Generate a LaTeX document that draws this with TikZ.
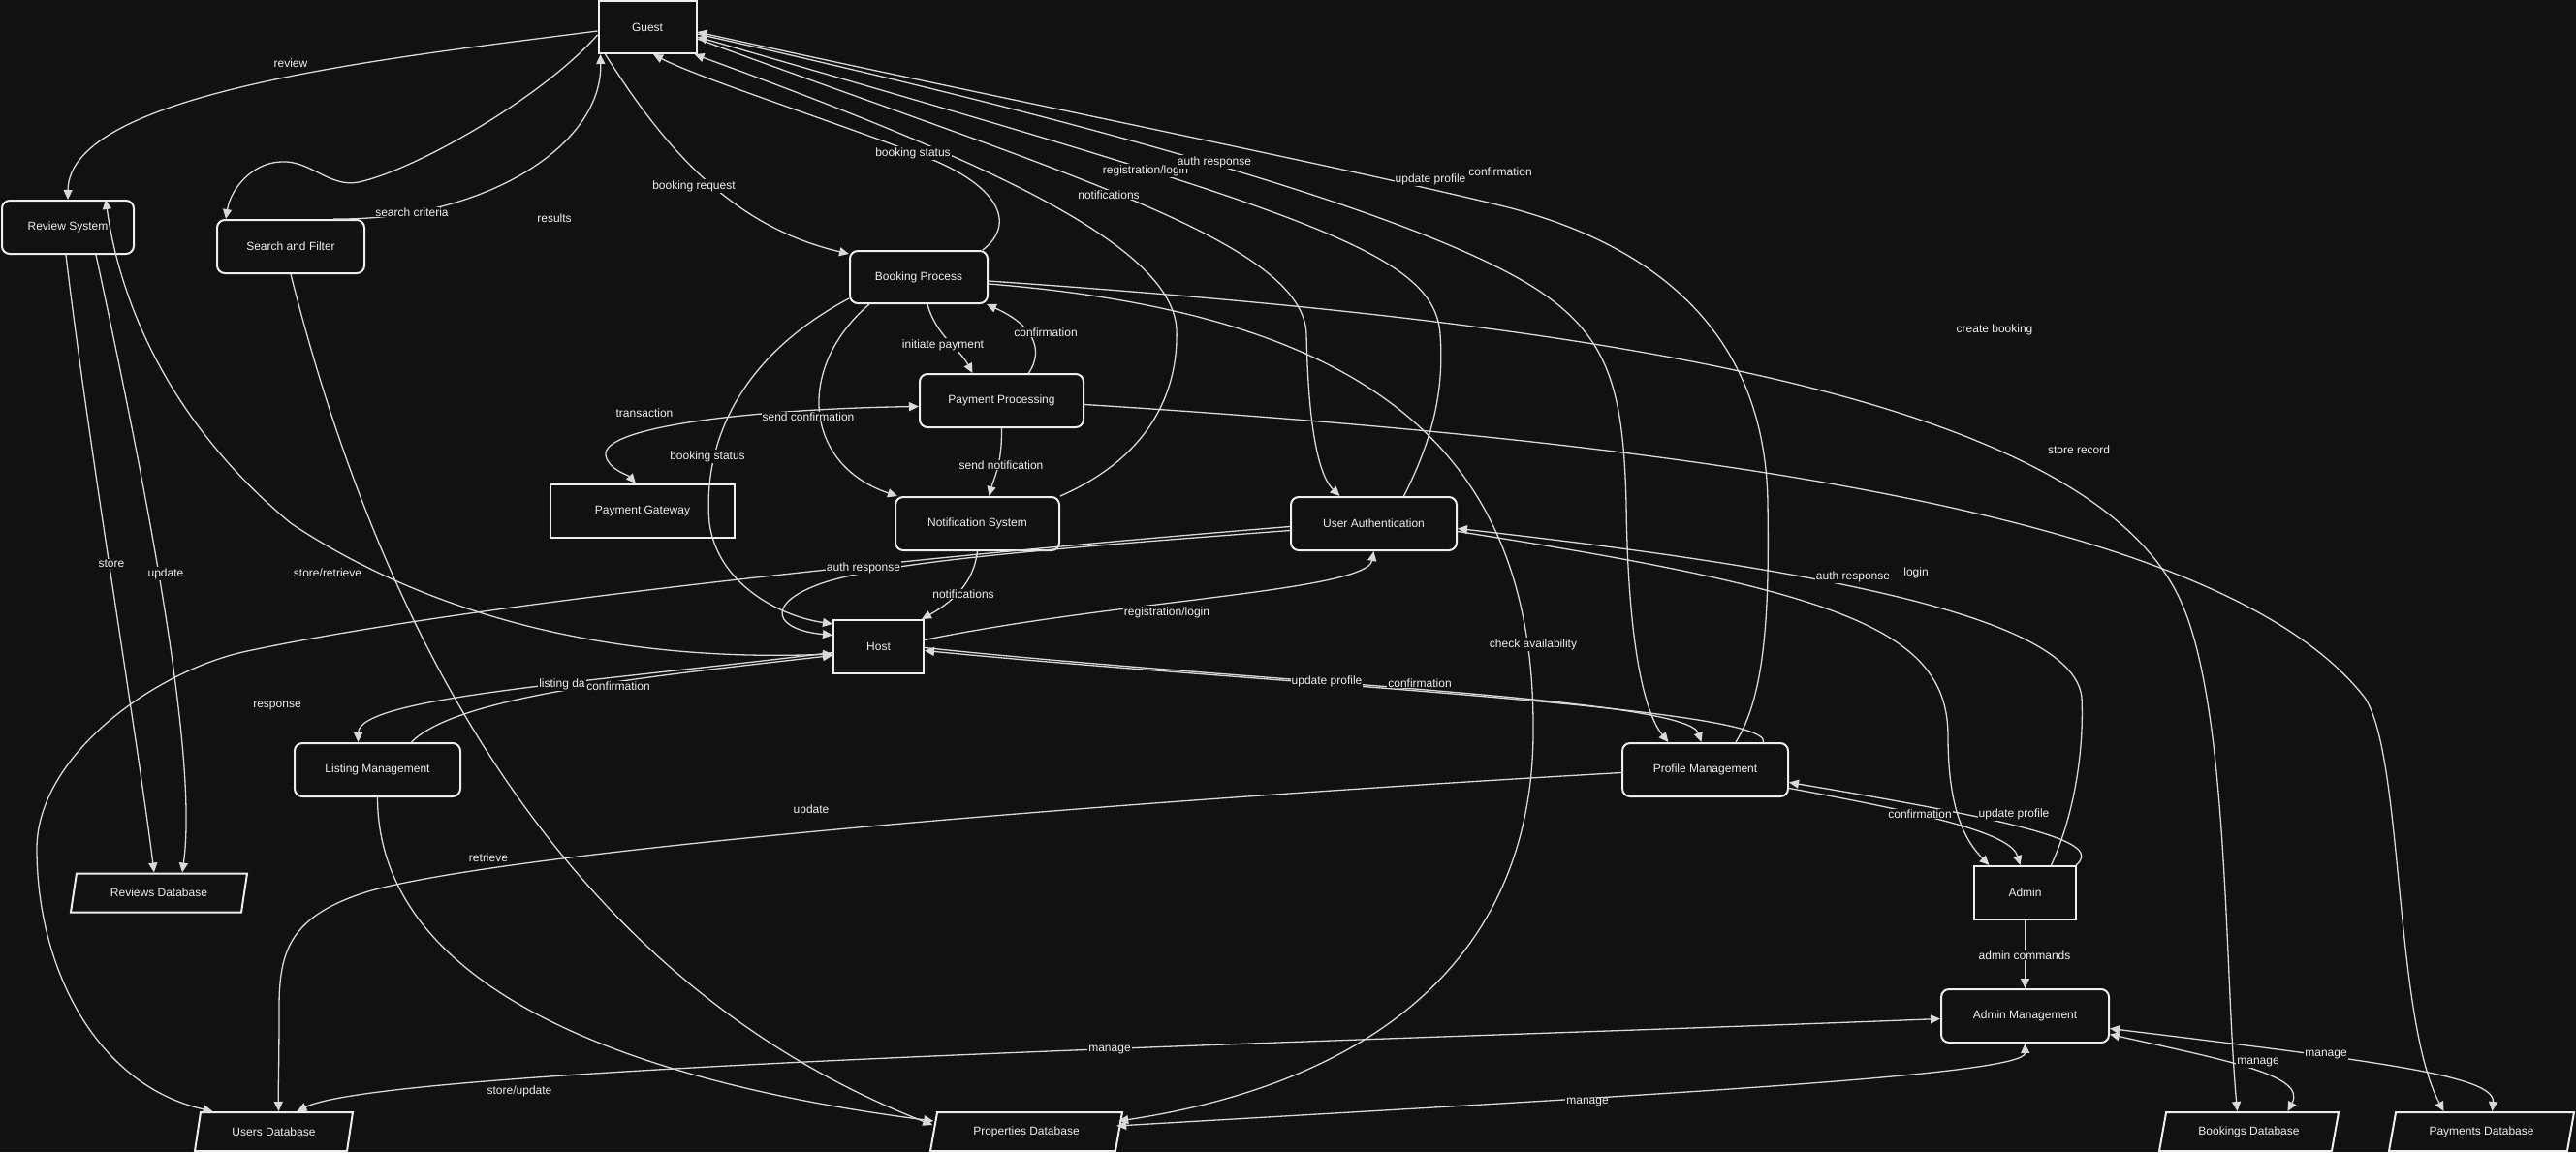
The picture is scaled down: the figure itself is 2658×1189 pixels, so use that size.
\documentclass[tikz,border=0pt]{standalone}
\usepackage{fontspec}
\setmainfont{Liberation Sans}
\usetikzlibrary{arrows.meta,shapes.geometric}
\definecolor{bg}{HTML}{111111}
\definecolor{ink}{HTML}{EEEEEE}
\definecolor{wire}{HTML}{D9D9D9}
\tikzset{
  nodebox/.style={draw=ink, line width=2pt, fill=bg, text=ink, font=\fontsize{12}{14}\selectfont, minimum height=55pt, inner sep=2pt},
  proc/.style={nodebox, rounded corners=8pt},
  ent/.style={nodebox},
  store/.style={nodebox, trapezium, trapezium left angle=65, trapezium right angle=115, trapezium stretches body=true, minimum height=40pt},
  flow/.style={draw=wire, line width=1.3pt, -{Triangle[length=10pt,width=9pt]}},
  biflow/.style={flow, {Triangle[length=10pt,width=9pt]}-{Triangle[length=10pt,width=9pt]}},
  lbl/.style={fill=bg, text=ink, font=\fontsize{12}{14}\selectfont, inner sep=1pt}
}
\begin{document}
\begin{tikzpicture}[x=1pt,y=-1pt]%
\useasboundingbox (0,0) rectangle (2658,1189);%
\fill[bg] (0,0) rectangle (2658,1189);%
% actors
\node[ent, minimum width=101pt, minimum height=54pt] (guest) at (668,28) {Guest};%
\node[ent, minimum width=93pt] (host) at (906.5,667.5) {Host};%
\node[ent, minimum width=105pt] (admin) at (2089.5,921.5) {Admin};%
\node[ent, minimum width=190pt] (gateway) at (663,527.5) {Payment Gateway};%
% processes
\node[proc, minimum width=136pt] (review) at (70,234.5) {Review System};%
\node[proc, minimum width=152pt] (search) at (300,254.5) {Search and Filter};%
\node[proc, minimum width=142pt, minimum height=54pt] (booking) at (948,286) {Booking Process};%
\node[proc, minimum width=169pt] (payment) at (1033.5,413.5) {Payment Processing};%
\node[proc, minimum width=169pt] (notify) at (1008.5,540.5) {Notification System};%
\node[proc, minimum width=171pt] (auth) at (1417.5,540.5) {User Authentication};%
\node[proc, minimum width=171pt] (listing) at (389.5,794.5) {Listing Management};%
\node[proc, minimum width=171pt] (profile) at (1759.5,794.5) {Profile Management};%
\node[proc, minimum width=173pt] (adminmgmt) at (2089.5,1048.5) {Admin Management};%
% data stores
\node[store, minimum width=182pt] (reviewsdb) at (164,921.5) {Reviews Database};%
\node[store, minimum width=163pt] (usersdb) at (282.5,1168) {Users Database};%
\node[store, minimum width=198pt] (propdb) at (1059,1168) {Properties Database};%
\node[store, minimum width=185pt] (bookingsdb) at (2320.5,1168) {Bookings Database};%
\node[store, minimum width=191pt] (paymentsdb) at (2560.5,1168) {Payments Database};%
% guest flows
\draw[flow] ([yshift=-4pt]guest.west) .. controls (400,60) and (71,95) .. (review.north);%
\draw[flow] ([yshift=-8pt]guest.west) .. controls (560,100) and (430,175) .. (370,188) .. controls (340,194) and (320,165) .. (290,167) .. controls (260,168) and (238,195) .. ([xshift=10pt]search.north west);%
\draw[flow] ([xshift=44pt]search.north) .. controls (500,228) and (622,150) .. ([xshift=3pt]guest.south west);%
\draw[flow] ([xshift=8pt]guest.south west) .. controls (690,160) and (760,235) .. ([yshift=-4pt]booking.north west);%
\draw[flow] ([xshift=-6pt]booking.north east) .. controls (1050,230) and (1030,190) .. (950,160) .. controls (850,122) and (720,80) .. ([xshift=6pt]guest.south);%
\draw[flow] ([xshift=-55pt]profile.north east) .. controls (1820,720) and (1826,640) .. (1824,520) .. controls (1822,330) and (1690,250) .. (1560,215) .. controls (1400,175) and (1000,95) .. ([yshift=-5pt]guest.east);%
\draw[flow] ([yshift=-7pt]guest.east) .. controls (1100,120) and (1450,215) .. (1580,295) .. controls (1660,345) and (1675,400) .. (1678,520) .. controls (1680,680) and (1700,740) .. ([xshift=-38pt]profile.north);%
\draw[flow] ([xshift=31pt]auth.north) .. controls (1480,450) and (1490,400) .. (1486,345) .. controls (1480,260) and (1350,220) .. ([yshift=-10pt]guest.east);%
\draw[flow] ([yshift=-12pt]guest.east) .. controls (1100,180) and (1345,250) .. (1348,345) .. controls (1350,440) and (1360,490) .. ([xshift=-35pt]auth.north);%
\draw[flow] (notify.north east) .. controls (1190,470) and (1216,400) .. (1214,340) .. controls (1210,250) and (1000,160) .. ([xshift=-3pt]guest.south east);%
% booking and payment
\draw[flow] ([xshift=9pt]booking.south) .. controls (965,345) and (990,360) .. ([xshift=-30pt]payment.north);%
\draw[flow] ([xshift=28pt]payment.north) .. controls (1078,360) and (1065,335) .. ([xshift=-2pt]booking.south east);%
\draw[flow] (payment.south) .. controls (1034,480) and (1025,495) .. ([xshift=12pt]notify.north);%
\draw[flow] ([xshift=21pt]booking.south west) .. controls (820,380) and (830,480) .. ([xshift=3pt]notify.north west);%
\draw[flow] ([yshift=-22pt]booking.west) .. controls (760,370) and (725,460) .. (732,540) .. controls (740,600) and (800,635) .. ([yshift=-5pt]host.north west);%
\draw[flow] (notify.south) .. controls (1005,600) and (985,620) .. ([xshift=-3pt]host.north east);%
\draw[biflow] ([yshift=-6pt]payment.west) .. controls (780,422) and (620,440) .. (625,470) .. controls (628,485) and (648,490) .. ([xshift=-7pt]gateway.north);%
\draw[flow] ([yshift=-7pt]booking.east) .. controls (1420,325) and (1582,470) .. (1582,750) .. controls (1584,1000) and (1400,1120) .. ([xshift=-5pt,yshift=-10pt]propdb.top right corner);%
\draw[flow] ([yshift=-4pt]booking.east) .. controls (1600,330) and (2150,400) .. (2250,620) .. controls (2300,730) and (2295,1000) .. ([xshift=-12pt]bookingsdb.north);%
\draw[flow] ([yshift=-4pt]payment.east) .. controls (1800,460) and (2300,540) .. (2440,720) .. controls (2480,780) and (2470,1050) .. ([xshift=-39pt]paymentsdb.north);%
% host and authentication
\draw[flow] ([yshift=-7pt]auth.west) .. controls (1100,565) and (900,580) .. (840,605) .. controls (790,625) and (800,650) .. ([yshift=12pt]host.west);%
\draw[flow] ([yshift=7pt]host.east) .. controls (1150,620) and (1410,610) .. (auth.south);%
\draw[flow] ([yshift=-3pt]auth.west) .. controls (1000,570) and (500,620) .. (255,672) .. controls (160,692) and (38,780) .. (38,876) .. controls (38,1000) and (100,1120) .. ([xshift=-63pt]usersdb.north);%
\draw[flow] ([yshift=-1pt]host.east) .. controls (1300,705) and (1740,720) .. ([xshift=-4pt]profile.north);%
\draw[flow] ([xshift=60pt]profile.north) .. controls (1830,730) and (1300,705) .. ([yshift=-4pt]host.east);%
% reviews and listings
\draw[biflow] ([yshift=-7.5pt]host.west) .. controls (600,685) and (420,620) .. (300,540) .. controls (180,440) and (125,320) .. ([xshift=39pt]review.north);%
\draw[flow] ([xshift=-2pt]review.south) .. controls (90,450) and (140,750) .. ([xshift=-5pt]reviewsdb.north);%
\draw[flow] ([xshift=29pt]review.south) .. controls (150,500) and (205,780) .. ([xshift=24pt]reviewsdb.north);%
\draw[flow] ([yshift=-6pt]host.west) .. controls (600,705) and (370,720) .. ([xshift=-20pt]listing.north);%
\draw[flow] ([xshift=35pt]listing.north) .. controls (470,720) and (650,700) .. ([yshift=-9pt]host.west);%
\draw[flow] (listing.south) .. controls (390,1000) and (600,1110) .. ([xshift=-3pt,yshift=-10pt]propdb.top left corner);%
\draw[flow] (search.south) .. controls (380,600) and (550,1000) .. ([xshift=-4pt,yshift=-14pt]propdb.top left corner);%
\draw[flow] ([yshift=-3pt]profile.west) .. controls (1100,830) and (520,880) .. (380,920) .. controls (300,945) and (288,980) .. (288,1040) .. controls (288,1100) and (287,1120) .. ([xshift=5pt]usersdb.north);%
% admin
\draw[flow] (admin.south) -- (adminmgmt.north);%
\draw[flow] ([xshift=-1pt]admin.north east) .. controls (2170,870) and (2100,850) .. ([yshift=-13pt]profile.east);%
\draw[flow] ([yshift=-19pt]profile.east) .. controls (1990,840) and (2075,860) .. ([xshift=-5pt]admin.north);%
\draw[flow] ([yshift=-8pt]auth.east) .. controls (1900,610) and (2010,650) .. (2010,760) .. controls (2010,840) and (2030,870) .. ([xshift=-37pt]admin.north);%
\draw[flow] ([xshift=27pt]admin.north) .. controls (2145,830) and (2150,760) .. (2148,720) .. controls (2140,640) and (1900,590) .. ([yshift=-5pt]auth.east);%
\draw[biflow] ([yshift=-3pt]adminmgmt.west) .. controls (1400,1075) and (400,1100) .. ([xshift=24pt]usersdb.north);%
\draw[biflow] (adminmgmt.south) .. controls (2090,1110) and (1700,1130) .. ([xshift=-7pt,yshift=-15pt]propdb.top right corner);%
\draw[biflow] ([yshift=-19pt]adminmgmt.east) .. controls (2300,1095) and (2380,1110) .. ([xshift=40pt]bookingsdb.north);%
\draw[biflow] ([yshift=-13pt]adminmgmt.east) .. controls (2450,1095) and (2575,1110) .. ([xshift=11pt]paymentsdb.north);%
% flow labels
\foreach \x/\y/\lab [count=\i] in {300/65/review, 425/219/{search criteria}, 572/225/results, 716/192/{booking request}, 942/158/{booking status}, 1182/176/{registration/login}, 1253/167/{auth response}, 1144/201/notifications, 1476/185/{update profile}, 1548/177/confirmation, 973/356/{initiate payment}, 1079/343/confirmation, 665/426/transaction, 834/430/{send confirmation}, 730/471/{booking status}, 1033/480/{send notification}, 891/586/{auth response}, 994/613/notifications, 1204/632/{registration/login}, 115/582/store, 171/592/update, 338/591/{store/retrieve}, 286/729/response, 580/706/{listing da}, 638/708/confirmation, 504/885/retrieve, 837/836/update, 536/1126/{store/update}, 1145/1084/manage, 1638/1138/manage, 2330/1097/manage, 2400/1089/manage, 2089/986/{admin commands}, 1369/703/{update profile}, 1465/705/confirmation, 1582/665/{check availability}, 2058/340/{create booking}, 2145/464/{store record}, 1912/595/{auth response}, 1977/591/login, 1981/840/confirmation, 2078/840/{update profile}}
  \node[lbl] (lab\i) at (\x,\y) {\lab};%
\end{tikzpicture}
\end{document}
